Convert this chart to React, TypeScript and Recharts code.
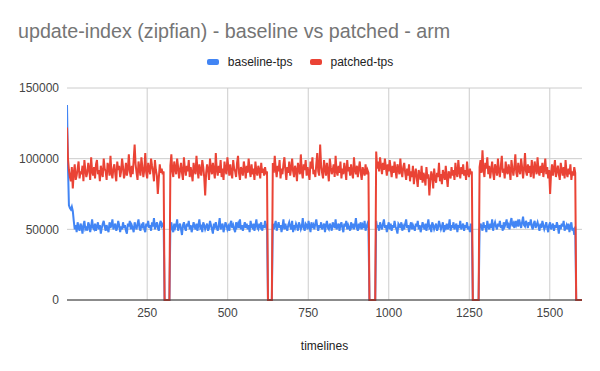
// update-index (zipfian) throughput, baseline vs patched, on arm.
// Samples are every 3rd timeline (values in k tps).

import { CartesianGrid, Line, LineChart, XAxis, YAxis } from "recharts";

const STEP = 3;
const SEG_STARTS = [1, 322, 640, 961, 1282];
// [first timeline, count] of the runs where both servers report 0 (restarts)
const ZERO_RUNS = [[304, 6], [625, 5], [940, 7], [1261, 7], [1582, 7]];

const baseline1 = [138, 95, 67, 65, 64, 66, 63, 56, 50, 53, 48, 55, 51, 49, 54, 52, 47, 53, 56, 50, 51, 49, 55, 53, 48, 52, 57, 51, 50, 54, 49, 52, 55, 50, 53, 47, 51, 54, 56, 52, 49, 53, 50, 48, 55, 51, 53, 57, 50, 52, 54, 49, 51, 56, 53, 48, 52, 50, 55, 51, 53, 49, 47, 54, 52, 56, 50, 53, 51, 48, 55, 52, 50, 54, 57, 51, 49, 53, 52, 55, 50, 48, 54, 52, 56, 51, 53, 49, 55, 52, 58, 50, 53, 55, 51, 49, 54, 56, 52, 53, 55];
const baseline2 = [52, 55, 50, 48, 54, 51, 53, 57, 49, 52, 54, 50, 46, 53, 55, 51, 49, 54, 52, 56, 50, 53, 48, 51, 55, 52, 50, 54, 49, 53, 57, 51, 52, 48, 55, 53, 50, 52, 54, 49, 51, 56, 53, 50, 47, 54, 52, 55, 51, 49, 53, 58, 50, 52, 54, 48, 51, 55, 53, 50, 52, 49, 54, 56, 51, 53, 50, 48, 55, 52, 54, 51, 57, 50, 53, 49, 52, 55, 51, 54, 50, 53, 48, 56, 52, 51, 54, 49, 53, 57, 51, 50, 54, 52, 55, 49, 53, 51, 56, 52, 53];
const baseline3 = [54, 50, 53, 56, 49, 52, 55, 51, 53, 48, 52, 57, 50, 54, 51, 49, 53, 55, 52, 50, 56, 48, 53, 51, 54, 52, 49, 55, 53, 50, 52, 58, 51, 49, 54, 53, 50, 56, 52, 48, 55, 51, 53, 50, 54, 57, 52, 49, 53, 51, 55, 50, 52, 54, 48, 53, 56, 51, 50, 54, 52, 49, 55, 53, 51, 57, 50, 52, 54, 49, 53, 55, 51, 48, 54, 52, 56, 50, 53, 51, 49, 55, 52, 54, 50, 53, 58, 51, 49, 54, 52, 55, 50, 53, 51, 56, 49, 52, 54, 51];
const baseline4 = [56, 51, 53, 49, 55, 52, 50, 54, 57, 51, 53, 48, 52, 55, 50, 54, 49, 53, 51, 56, 52, 50, 47, 54, 53, 51, 55, 49, 52, 50, 54, 57, 51, 53, 48, 52, 55, 50, 53, 51, 49, 54, 52, 56, 50, 53, 48, 51, 55, 52, 50, 54, 49, 53, 57, 51, 52, 48, 55, 53, 50, 52, 54, 49, 51, 56, 53, 50, 52, 55, 48, 53, 51, 54, 50, 52, 57, 49, 53, 51, 55, 50, 52, 54, 48, 53, 51, 56, 50, 52, 54, 49, 53, 51, 55, 50, 52, 48, 54, 51];
const baseline5 = [50, 54, 52, 49, 55, 51, 53, 48, 56, 52, 50, 54, 51, 57, 49, 53, 55, 52, 50, 54, 52, 56, 51, 53, 49, 55, 52, 54, 57, 51, 53, 50, 55, 58, 52, 54, 51, 56, 53, 55, 52, 57, 54, 51, 55, 59, 53, 52, 56, 54, 51, 55, 53, 57, 52, 50, 54, 56, 51, 53, 55, 52, 49, 54, 51, 56, 53, 50, 52, 55, 51, 48, 53, 55, 50, 52, 54, 49, 53, 51, 55, 52, 47, 53, 50, 54, 52, 56, 49, 51, 53, 50, 54, 48, 52, 55, 49, 51, 46, 52];

const patched1 = [122, 100, 92, 87, 84, 94, 79, 90, 96, 85, 88, 93, 98, 86, 91, 89, 95, 84, 99, 92, 87, 90, 97, 93, 85, 101, 91, 88, 94, 86, 96, 99, 89, 92, 84, 95, 90, 87, 100, 93, 91, 85, 97, 94, 88, 102, 90, 86, 93, 96, 89, 84, 98, 92, 95, 87, 91, 100, 94, 86, 90, 97, 88, 93, 103, 91, 87, 95, 89, 99, 110, 96, 90, 85, 98, 93, 88, 101, 94, 87, 92, 104, 90, 86, 97, 93, 89, 100, 95, 91, 84, 99, 92, 88, 75, 86, 96, 90, 93, 89, 91];
const patched2 = [95, 103, 91, 87, 98, 93, 89, 100, 94, 86, 92, 97, 90, 85, 101, 93, 88, 95, 91, 99, 87, 94, 90, 84, 97, 92, 89, 102, 93, 86, 96, 91, 88, 99, 94, 87, 74, 90, 96, 92, 85, 100, 93, 89, 97, 91, 86, 104, 92, 88, 95, 90, 99, 87, 93, 85, 98, 92, 89, 101, 94, 88, 96, 90, 86, 99, 93, 91, 87, 97, 102, 90, 85, 94, 92, 88, 98, 93, 86, 95, 90, 100, 92, 87, 96, 89, 93, 85, 98, 91, 88, 95, 92, 86, 97, 90, 93, 88, 94, 89, 91];
const patched3 = [97, 90, 102, 93, 87, 95, 91, 99, 86, 93, 89, 96, 101, 92, 85, 94, 90, 98, 88, 93, 100, 91, 87, 95, 92, 84, 97, 93, 89, 103, 91, 86, 96, 92, 99, 88, 94, 90, 85, 98, 93, 101, 89, 92, 87, 96, 104, 91, 88, 110, 95, 90, 86, 99, 93, 88, 97, 91, 84, 100, 94, 89, 92, 96, 87, 102, 91, 88, 95, 90, 98, 86, 93, 89, 97, 92, 85, 99, 91, 94, 88, 96, 90, 86, 101, 92, 89, 95, 87, 93, 98, 90, 85, 94, 91, 88, 96, 89, 92, 90];
const patched4 = [105, 93, 98, 91, 101, 95, 89, 97, 92, 100, 94, 88, 96, 91, 99, 93, 87, 95, 90, 98, 92, 86, 96, 93, 89, 100, 91, 87, 94, 97, 90, 85, 93, 88, 96, 84, 91, 87, 95, 82, 89, 93, 86, 80, 92, 88, 85, 95, 83, 90, 87, 81, 94, 86, 89, 74, 84, 91, 88, 79, 93, 86, 83, 90, 87, 97, 84, 89, 82, 92, 88, 85, 95, 87, 80, 91, 89, 86, 94, 88, 92, 85, 97, 90, 87, 99, 91, 86, 94, 89, 96, 88, 92, 85, 98, 90, 87, 93, 89, 91];
const patched5 = [94, 99, 90, 106, 92, 87, 97, 93, 101, 89, 95, 86, 92, 98, 90, 85, 96, 93, 88, 100, 91, 87, 95, 102, 90, 93, 86, 98, 91, 89, 96, 92, 85, 99, 93, 88, 94, 103, 90, 87, 97, 92, 89, 100, 94, 86, 93, 104, 91, 88, 96, 90, 95, 87, 99, 92, 86, 98, 93, 89, 101, 91, 88, 95, 90, 97, 87, 93, 100, 89, 94, 86, 92, 75, 90, 96, 88, 93, 99, 87, 91, 95, 89, 85, 97, 92, 88, 94, 86, 99, 90, 87, 93, 89, 96, 85, 91, 88, 94, 90];

const BASELINE = [baseline1, baseline2, baseline3, baseline4, baseline5];
const PATCHED = [patched1, patched2, patched3, patched4, patched5];

const X_TICKS = [250, 500, 750, 1000, 1250, 1500];
const Y_TICKS = [0, 50000, 100000, 150000];

const BLUE = "#4285f4";
const RED = "#ea4335";
const FONT = "Arial, 'Liberation Sans', sans-serif";

type Row = { t: number; baseline: number; patched: number };

function buildRows(): Row[] {
  const rows: Row[] = [];
  SEG_STARTS.forEach((start, s) => {
    BASELINE[s].forEach((b, i) => {
      rows.push({ t: start + i * STEP, baseline: b * 1000, patched: PATCHED[s][i] * 1000 });
    });
  });
  ZERO_RUNS.forEach(([first, count]) => {
    for (let i = 0; i < count; i++) rows.push({ t: first + i * STEP, baseline: 0, patched: 0 });
  });
  return rows.sort((a, b) => a.t - b.t);
}

const rows = buildRows();

const tickStyle = { fontSize: 12, fill: "#444", fontFamily: FONT };

export default function App() {
  return (
    <div style={{ position: "relative", width: 600, height: 371, background: "#fff", fontFamily: FONT }}>
      <style>{"body{margin:0}"}</style>
      <div style={{ position: "absolute", left: 18, top: 21, fontSize: 19.7, lineHeight: "20px", color: "#757575", whiteSpace: "nowrap" }}>
        update-index (zipfian) - baseline vs patched - arm
      </div>
      <div style={{ position: "absolute", left: 0, top: 55, width: 600, display: "flex", justifyContent: "center", fontSize: 12, lineHeight: "14px", color: "#222" }}>
        {[
          { name: "baseline-tps", color: BLUE },
          { name: "patched-tps", color: RED },
        ].map((l, i) => (
          <span key={l.name} style={{ display: "flex", alignItems: "center", marginLeft: i ? 17 : 0 }}>
            <span style={{ width: 12, height: 6, borderRadius: 2, background: l.color, marginRight: 9 }} />
            {l.name}
          </span>
        ))}
      </div>
      <div style={{ position: "absolute", left: 0, top: 339, width: 649, textAlign: "center", fontSize: 12, color: "#222" }}>
        timelines
      </div>
      <LineChart width={600} height={371} data={rows} margin={{ top: 88, right: 18, bottom: 41, left: 0 }}>
        <CartesianGrid stroke="#cccccc" vertical horizontal verticalValues={X_TICKS} />
        <XAxis
          dataKey="t"
          type="number"
          domain={[1, 1600]}
          ticks={X_TICKS}
          allowDataOverflow
          height={30}
          tickLine={false}
          axisLine={{ stroke: "#333", strokeWidth: 1 }}
          tick={tickStyle}
        />
        <YAxis
          type="number"
          domain={[0, 150000]}
          ticks={Y_TICKS}
          width={67}
          tickLine={false}
          axisLine={false}
          tick={tickStyle}
        />
        <Line
          type="linear"
          dataKey="baseline"
          name="baseline-tps"
          stroke={BLUE}
          strokeWidth={2}
          dot={false}
          isAnimationActive={false}
        />
        <Line
          type="linear"
          dataKey="patched"
          name="patched-tps"
          stroke={RED}
          strokeWidth={2}
          dot={false}
          isAnimationActive={false}
        />
      </LineChart>
    </div>
  );
}
